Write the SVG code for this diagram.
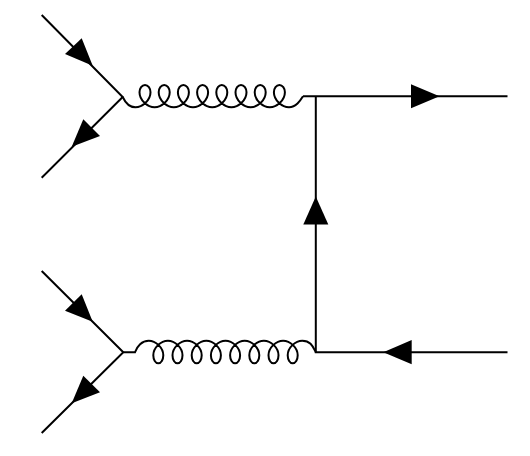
<svg xmlns="http://www.w3.org/2000/svg" width="530" height="456" viewBox="0 0 530 456">
<defs><style>
.l{fill:none;stroke:#000;stroke-width:2}
.a{fill:#000;stroke:none}
</style></defs>
<rect width="530" height="456" fill="#fff"/>
<g id="connectors">
<path class="l" d="M41.7 15L122.7 97L41.7 177.7"/>
<path class="l" d="M41.7 271L123.3 352.3L41.7 433"/>
<path class="l" d="M303 96.2H507.5M315.8 96.2V352.3H507.5"/>
<path class="l" d="M122.7 97C125.5 103 130 107.3 135.4 107.3c7 0 15.1-7 15.1-15c0-4-2.4-7.3-5.5-7.3c-3.1 0-5.5 3.3-5.5 7.3c0 8 8.1 15 15.1 15c7 0 15.1-7 15.1-15c0-4-2.4-7.3-5.5-7.3c-3.1 0-5.5 3.3-5.5 7.3c0 8 8.1 15 15.1 15c7 0 15.1-7 15.1-15c0-4-2.4-7.3-5.5-7.3c-3.1 0-5.5 3.3-5.5 7.3c0 8 8.1 15 15.1 15c7 0 15.1-7 15.1-15c0-4-2.4-7.3-5.5-7.3c-3.1 0-5.5 3.3-5.5 7.3c0 8 8.1 15 15.1 15c7 0 15.1-7 15.1-15c0-4-2.4-7.3-5.5-7.3c-3.1 0-5.5 3.3-5.5 7.3c0 8 8.1 15 15.1 15c7 0 15.1-7 15.1-15c0-4-2.4-7.3-5.5-7.3c-3.1 0-5.5 3.3-5.5 7.3c0 8 8.1 15 15.1 15c7 0 15.1-7 15.1-15c0-4-2.4-7.3-5.5-7.3c-3.1 0-5.5 3.3-5.5 7.3c0 8 8.1 15 15.1 15c7 0 15.1-7 15.1-15c0-4-2.4-7.3-5.5-7.3c-3.1 0-5.5 3.3-5.5 7.3c0 8 8.1 15 15.1 15C296 107.3 300 101 303 96.2"/>
<path class="l" d="M123.3 352.3H135C137 346 142 340.7 148.7 340.7c7 0 14.6 7 14.6 14.6c0 4.400-2.200 8-5 8c-2.800 0-5-3.600-5-8c0-7.600 7.600-14.600 14.600-14.600c7 0 14.600 7 14.600 14.600c0 4.400-2.200 8-5 8c-2.800 0-5-3.600-5-8c0-7.600 7.600-14.600 14.600-14.600c7 0 14.600 7 14.600 14.600c0 4.400-2.200 8-5 8c-2.800 0-5-3.600-5-8c0-7.600 7.600-14.600 14.600-14.600c7 0 14.600 7 14.600 14.600c0 4.400-2.200 8-5 8c-2.800 0-5-3.600-5-8c0-7.600 7.600-14.600 14.600-14.600c7 0 14.600 7 14.600 14.600c0 4.400-2.200 8-5 8c-2.800 0-5-3.600-5-8c0-7.600 7.600-14.600 14.600-14.600c7 0 14.600 7 14.600 14.600c0 4.400-2.200 8-5 8c-2.800 0-5-3.600-5-8c0-7.600 7.600-14.600 14.600-14.600c7 0 14.600 7 14.600 14.600c0 4.400-2.200 8-5 8c-2.800 0-5-3.600-5-8c0-7.600 7.600-14.600 14.600-14.600c7 0 14.600 7 14.600 14.600c0 4.400-2.200 8-5 8c-2.800 0-5-3.600-5-8c0-7.600 7.600-14.600 14.600-14.600C311 340.700 313 347 315.800 352.300"/>
<polygon class="a" points="92.7,65.700 81.700,38.300 65,54"/>
<polygon class="a" points="71.700,146.700 83.300,119.300 100,136"/>
<polygon class="a" points="92.700,321.700 81.700,294.300 65,310.700"/>
<polygon class="a" points="71.700,403.300 83.300,375.700 100,392.300"/>
<polygon class="a" points="439.500,96.200 411,84.300 411,108.300"/>
<polygon class="a" points="315.800,196.500 303.300,224.500 328.300,224.500"/>
<polygon class="a" points="383.300,352.300 411.700,340 411.700,364.300"/>
</g>
</svg>
